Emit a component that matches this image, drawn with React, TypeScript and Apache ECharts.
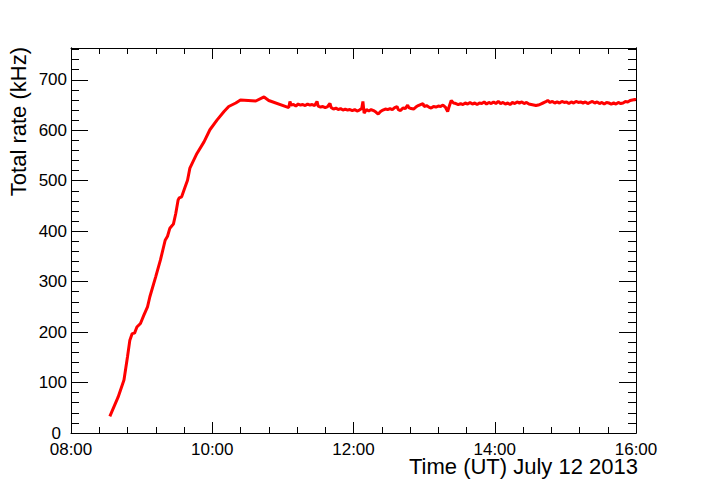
import React, { useEffect, useRef } from 'react';
import * as echarts from 'echarts';

// Time in minutes after midnight (UT), rate in kHz
const RISE_TIMES = [513, 520, 525, 528, 530, 532, 534, 536, 539, 542, 545, 547, 552, 556, 560, 562, 564, 567, 569, 571, 572, 574, 577, 579, 581, 587, 593, 598, 604, 610, 614, 620, 624, 637, 644, 648];
const RISE_VALUES = [33, 71, 105, 151, 184, 197, 198, 210, 217, 234, 250, 270, 310, 343, 382, 390, 406, 414, 435, 462, 466, 468, 488, 501, 525, 554, 577, 601, 620, 637, 647, 654, 660, 658, 666, 659];

const FLAT_TIMES = [
  665, 666, 667, 669, 671, 673, 675, 677, 679, 681, 683, 685, 687, 689, 690, 692, 694, 696, 698, 700,
  701, 703, 705, 707, 709, 711, 713, 715, 717, 719, 721, 723, 725, 727, 728, 729, 731, 733, 735, 737,
  739, 741, 743, 745, 747, 749, 751, 753, 755, 757, 758, 760, 762, 764, 766, 767, 769, 771, 773, 775,
  777, 779, 780, 782, 784, 786, 788, 790, 792, 794, 796, 798, 800, 801, 803, 805, 807, 809, 811, 813,
  815, 817, 819, 821, 823, 825, 827, 829, 831, 833, 835, 837, 839, 841, 843, 845, 847, 849, 851, 853,
  855, 857, 859, 861, 863, 865, 867, 869, 871, 873, 875, 877, 879, 881, 883, 885, 887, 889, 891, 893,
  895, 897, 899, 901, 903, 905, 907, 909, 911, 913, 915, 917, 919, 921, 923, 925, 927, 929, 931, 933,
  935, 937, 939, 941, 943, 945, 947, 949, 951, 953, 955, 957, 959, 960
];
const FLAT_VALUES = [
  645, 657, 650, 651, 648, 652, 650, 651, 649, 652, 650, 651, 649, 657, 648, 646, 647, 645, 647, 653,
  645, 642, 644, 641, 643, 640, 642, 640, 641, 639, 641, 638, 640, 643, 657, 634, 641, 638, 641, 639,
  636, 632, 637, 640, 642, 641, 643, 641, 645, 647, 641, 639, 644, 643, 650, 645, 643, 642, 646, 649,
  651, 653, 647, 649, 646, 644, 647, 646, 648, 647, 650, 646, 637, 645, 659, 654, 653, 651, 653, 651,
  654, 652, 655, 652, 654, 651, 654, 653, 656, 652, 655, 653, 656, 653, 657, 653, 655, 652, 654, 651,
  655, 653, 656, 654, 656, 653, 655, 652, 651, 650, 649, 650, 652, 654, 656, 659, 655, 657, 654, 656,
  654, 657, 655, 656, 653, 656, 654, 657, 655, 656, 654, 656, 653, 655, 657, 654, 656, 653, 655, 652,
  655, 654, 652, 654, 652, 655, 653, 654, 657, 656, 659, 660, 661, 660
];

const X_TICK_LABELS = ['08:00', '10:00', '12:00', '14:00', '16:00'];
const X_TITLE = 'Time (UT) July 12 2013';
const Y_TITLE = 'Total rate (kHz)';

const FONT = "'Liberation Sans', Arial, Helvetica, sans-serif";

export default function App() {
  const ref = useRef<HTMLDivElement>(null);

  useEffect(() => {
    const chart = echarts.init(ref.current!, null, { renderer: 'svg' });
    const data: [number, number][] = [];
    RISE_TIMES.forEach((t, i) => data.push([t, RISE_VALUES[i]]));
    FLAT_TIMES.forEach((t, i) => data.push([t, FLAT_VALUES[i]]));

    const X_MIN = 480, X_MAX = 960, Y_MAX = 763;
    const lineStyle = { color: '#000', width: 1 };

    const xBase = (pos: 'bottom' | 'top', labels: boolean) => ({
      type: 'value',
      position: pos,
      min: X_MIN,
      max: X_MAX,
      interval: 120,
      axisLine: { show: true, onZero: false, lineStyle },
      axisTick: { show: true, inside: true, length: 11, lineStyle },
      minorTick: { show: true, splitNumber: 5, length: 6, lineStyle },
      splitLine: { show: false },
      minorSplitLine: { show: false },
      axisLabel: {
        show: labels,
        fontSize: 17,
        color: '#000',
        fontFamily: FONT,
        margin: 8,
        showMinLabel: true,
        showMaxLabel: true,
        formatter: (v: number) => X_TICK_LABELS[Math.round((v - X_MIN) / 120)] ?? '',
      },
    });

    const yBase = (pos: 'left' | 'right', interval: number, len: number, labels: boolean) => ({
      type: 'value',
      position: pos,
      min: 0,
      max: Y_MAX,
      interval,
      axisLine: { show: true, onZero: false, lineStyle },
      axisTick: { show: true, inside: true, length: len, lineStyle },
      splitLine: { show: false },
      axisLabel: {
        show: labels,
        fontSize: 17,
        color: '#000',
        fontFamily: FONT,
        margin: 4,
        formatter: (v: number) => (v === 0 ? '{z|0}' : v % 100 === 0 ? String(v) : ''),
        rich: { z: { fontSize: 17, color: '#000', fontFamily: FONT, padding: [0, 6, 0, 0] } },
      },
    });

    chart.setOption({
      animation: false,
      backgroundColor: '#fff',
      grid: { left: 71, right: 70, top: 48, bottom: 48, containLabel: false },
      xAxis: [xBase('bottom', true), xBase('top', false)],
      yAxis: [
        yBase('left', 100, 17, true),
        yBase('left', 20, 8, false),
        yBase('right', 100, 17, false),
        yBase('right', 20, 8, false),
      ],
      series: [
        {
          type: 'line',
          xAxisIndex: 0,
          yAxisIndex: 0,
          data,
          showSymbol: false,
          symbol: 'none',
          lineStyle: { color: '#ff0000', width: 3 },
          itemStyle: { color: '#ff0000' },
        },
      ],
      graphic: [
        {
          type: 'text',
          x: 638,
          y: 466,
          style: {
            text: X_TITLE,
            fontSize: 22,
            fontFamily: FONT,
            fill: '#000',
            align: 'right',
            verticalAlign: 'middle',
          },
        },
        {
          type: 'text',
          x: 18,
          y: 47,
          rotation: Math.PI / 2,
          style: {
            text: Y_TITLE,
            fontSize: 22,
            fontFamily: FONT,
            fill: '#000',
            align: 'right',
            verticalAlign: 'middle',
          },
        },
      ],
    });

    return () => chart.dispose();
  }, []);

  return (
    <div
      ref={ref}
      style={{ position: 'fixed', left: 0, top: 0, width: 706, height: 481, background: '#fff' }}
    />
  );
}
